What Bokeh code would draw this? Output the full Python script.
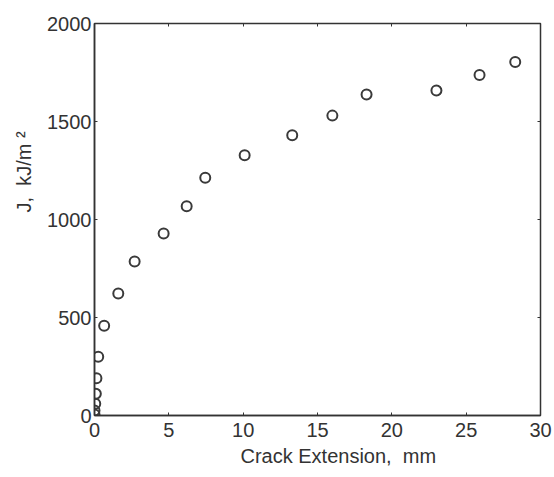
from bokeh.plotting import figure
from bokeh.models import Range1d, LinearAxis, FixedTicker, Title
from bokeh.embed import file_html
from bokeh.resources import INLINE

crack_ext = [0.0, 0.0, 0.05, 0.09, 0.13, 0.25, 0.65, 1.6, 2.7, 4.65, 6.2, 7.45, 10.1,
             13.3, 16.0, 18.3, 23.0, 25.9, 28.3]
j_values = [5, 25, 60, 111, 190, 300, 458, 623, 786, 928, 1068, 1213, 1328,
            1430, 1530, 1638, 1658, 1737, 1803]
x_ticks = [0, 5, 10, 15, 20, 25, 30]
y_ticks = [0, 500, 1000, 1500, 2000]
x_title = "Crack Extension,\u00a0 mm"
y_title = "J,\u00a0 kJ/m \u00b2"

p = figure(width=554, height=477, output_backend="svg", toolbar_location=None,
           x_range=Range1d(0, 30), y_range=Range1d(0, 2000),
           min_border_left=93, min_border_right=14, min_border_top=23, min_border_bottom=62)
p.background_fill_color = "white"
p.border_fill_color = "white"
p.grid.visible = False
p.outline_line_color = "#333333"
p.outline_line_width = 1.5

font = "Liberation Sans"
ink = "#333333"
for ax, ticks in ((p.xaxis[0], x_ticks), (p.yaxis[0], y_ticks)):
    ax.ticker = FixedTicker(ticks=ticks)
    ax.major_tick_in = 3
    ax.major_tick_out = 0
    ax.minor_tick_line_color = None
    ax.axis_line_color = ink
    ax.axis_line_width = 1.5
    ax.major_tick_line_color = ink
    ax.major_label_text_font = font
    ax.major_label_text_font_size = "20px"
    ax.major_label_text_color = ink
p.xaxis.major_label_standoff = 7
p.yaxis.major_label_standoff = 3

top = LinearAxis(ticker=FixedTicker(ticks=x_ticks), major_tick_in=3, major_tick_out=0,
                 minor_tick_line_color=None, major_label_text_color=None,
                 axis_line_color=None, major_tick_line_color=ink)
right = LinearAxis(ticker=FixedTicker(ticks=y_ticks), major_tick_in=3, major_tick_out=0,
                   minor_tick_line_color=None, major_label_text_color=None,
                   axis_line_color=None, major_tick_line_color=ink)
p.add_layout(top, "above")
p.add_layout(right, "right")

p.scatter(crack_ext, j_values, marker="circle", size=10, fill_color=None,
          line_color="#3a3a3a", line_width=2)

p.add_layout(Title(text=x_title, align="left", offset=146, standoff=7,
                   text_font=font, text_font_size="20px", text_font_style="normal",
                   text_color=ink), "below")
p.add_layout(Title(text=y_title, align="left", offset=203, standoff=20,
                   text_font=font, text_font_size="20px", text_font_style="normal",
                   text_color=ink), "left")

open("out.html", "w").write(file_html(p, INLINE))
